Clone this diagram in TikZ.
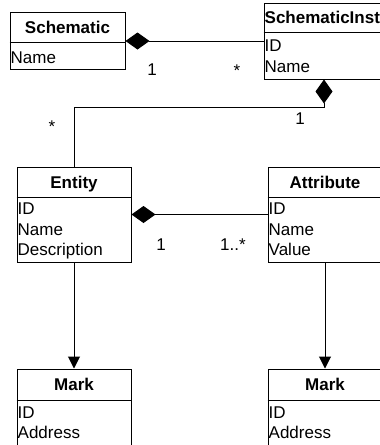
\documentclass[tikz,border=0pt]{standalone}
\usepackage{fontspec}
\setmainfont{Liberation Sans}
\usetikzlibrary{arrows.meta,positioning,calc}

\tikzset{
  classbox/.style={draw, line width=1pt, inner sep=0pt, minimum width=114pt},
  classname/.style={font=\fontsize{17}{20}\selectfont\bfseries, inner sep=0pt, anchor=base},
  classfield/.style={font=\fontsize{17}{20}\selectfont, inner sep=0pt, anchor=base west},
  multlabel/.style={font=\fontsize{17}{20}\selectfont, inner sep=0pt, anchor=base},
  composition/.style={line width=1pt, {Diamond[length=24pt,width=17pt]}-},
  navarrow/.style={line width=1pt, -{Triangle[length=12pt,width=12pt]}},
}

\begin{document}
\begin{tikzpicture}[x=1pt, y=-1pt]
  \useasboundingbox (0,0) rectangle (380,445);
  \fill[white] (0,0) rectangle (380,445);
  \clip (0,0) rectangle (380,445);
  % Class boxes
  \node[classbox, minimum width=115pt, minimum height=57pt] (schem) at (67.5,41) {};
  \node[classbox, minimum width=120pt, minimum height=76pt] (sinst) at (324,41) {};
  \node[classbox, minimum height=95pt] (entity) at (74,214.5) {};
  \node[classbox, minimum height=95pt] (attr) at (325,214.5) {};
  \node[classbox, minimum height=83pt] (markA) at (74,410.5) {};
  \node[classbox, minimum height=83pt] (markB) at (325,410.5) {};
  % Header dividers
  \draw[line width=1pt] ([yshift=-30pt]schem.north west) -- ([yshift=-30pt]schem.north east);
  \draw[line width=1pt] ([yshift=-30pt]sinst.north west) -- ([yshift=-30pt]sinst.north east);
  \draw[line width=1pt] ([yshift=-31pt]entity.north west) -- ([yshift=-31pt]entity.north east);
  \draw[line width=1pt] ([yshift=-31pt]attr.north west) -- ([yshift=-31pt]attr.north east);
  \draw[line width=1pt] ([yshift=-32pt]markA.north west) -- ([yshift=-32pt]markA.north east);
  \draw[line width=1pt] ([yshift=-32pt]markB.north west) -- ([yshift=-32pt]markB.north east);
  % Schematic
  \node[classname] (schemName) at (67.5,33) {Schematic};
  \node[classfield] (schemF1) at (10.5,63) {Name};
  % SchematicInst
  \node[classname, anchor=base west] (sinstName) at (264.5,23) {SchematicInst};
  \node[classfield] (sinstF1) at (264.5,51) {ID};
  \node[classfield] (sinstF2) at (264.5,72) {Name};
  % Entity
  \node[classname] (entityName) at (74,188) {Entity};
  \node[classfield] (entityF1) at (17.5,214) {ID};
  \node[classfield] (entityF2) at (17.5,235) {Name};
  \node[classfield] (entityF3) at (17.5,255) {Description};
  % Attribute
  \node[classname] (attrName) at (325,188) {Attribute};
  \node[classfield] (attrF1) at (268.5,214) {ID};
  \node[classfield] (attrF2) at (268.5,235) {Name};
  \node[classfield] (attrF3) at (268.5,255) {Value};
  % Mark (twice)
  \node[classname] (markAName) at (74,390) {Mark};
  \node[classfield] (markAF1) at (17.5,418) {ID};
  \node[classfield] (markAF2) at (17.5,438) {Address};
  \node[classname] (markBName) at (325,390) {Mark};
  \node[classfield] (markBF1) at (268.5,418) {ID};
  \node[classfield] (markBF2) at (268.5,438) {Address};
  % Compositions
  \draw[composition] (schem.east) -- (sinst.west);
  \draw[composition] (sinst.south) -- ++(0,28) -| (entity.north);
  \draw[composition] (entity.east) -- (attr.west);
  % Navigation
  \draw[navarrow] (entity.south) -- (markA.north);
  \draw[navarrow] (attr.south) -- (markB.north);
  % Multiplicities
  \node[multlabel] (m1) at (152,75) {1};
  \node[multlabel] (m2) at (237,76) {*};
  \node[multlabel] (m3) at (300,124) {1};
  \node[multlabel] (m4) at (52,132) {*};
  \node[multlabel] (m5) at (161,250) {1};
  \node[multlabel] (m6) at (233,250) {1..*};
\end{tikzpicture}
\end{document}
